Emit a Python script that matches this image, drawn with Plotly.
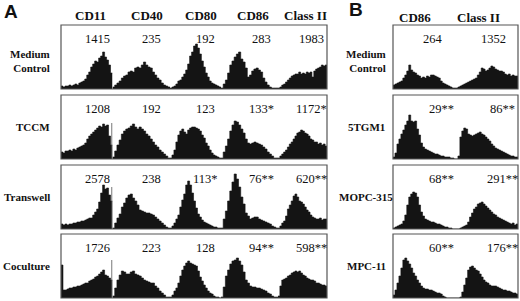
import plotly.graph_objects as go

# ---------------- data ----------------
markers_A = ["CD11", "CD40", "CD80", "CD86", "Class II"]
markers_B = ["CD86", "Class II"]
conditions_A = ["Medium<br>Control", "TCCM", "Transwell", "Coculture"]
conditions_B = ["Medium<br>Control", "5TGM1", "MOPC-315", "MPC-11"]

mfi_A = [["1415", "235", "192", "283", "1983"],
         ["1208", "192", "123", "133*", "1172*"],
         ["2578", "238", "113*", "76**", "620**"],
         ["1726", "223", "128", "94**", "598**"]]
mfi_B = [["264", "1352"],
         ["29**", "86**"],
         ["68**", "291**"],
         ["60**", "176**"]]

# relative cell counts per channel bin (0-64 scale)
medium_A = [
    [3, 2, 3, 3, 4, 3, 4, 5, 4, 6, 7, 8, 10, 14, 17, 22, 25, 28, 27, 31, 33, 37, 32, 29, 24, 16],
    [2, 4, 6, 8, 11, 13, 14, 17, 18, 17, 21, 22, 21, 24, 27, 24, 22, 21, 17, 14, 11, 9, 6, 4, 3, 2],
    [1, 2, 3, 5, 8, 9, 12, 15, 19, 25, 33, 37, 43, 45, 41, 35, 28, 22, 16, 12, 8, 6, 5, 4, 3, 2],
    [1, 5, 9, 16, 24, 28, 32, 35, 37, 30, 27, 21, 12, 14, 18, 20, 21, 19, 17, 11, 7, 4, 2, 1, 1, 1],
    [1, 2, 4, 5, 7, 9, 11, 13, 14, 15, 15, 17, 15, 16, 15, 17, 16, 17, 12, 18, 20, 21, 22, 24, 23, 24],
]
tccm_A = [
    [7, 6, 8, 8, 9, 8, 10, 9, 11, 12, 13, 14, 16, 20, 23, 25, 27, 29, 31, 33, 32, 35, 33, 34, 23, 14],
    [2, 8, 14, 19, 25, 28, 30, 31, 33, 35, 32, 30, 32, 30, 28, 25, 23, 20, 17, 14, 12, 9, 7, 5, 3, 1],
    [1, 4, 9, 17, 24, 28, 30, 27, 25, 29, 31, 32, 32, 31, 30, 28, 24, 21, 16, 13, 9, 6, 4, 3, 2, 1],
    [1, 7, 13, 20, 28, 34, 38, 37, 34, 30, 26, 20, 16, 15, 16, 17, 16, 15, 14, 12, 10, 7, 5, 3, 1, 1],
    [1, 3, 5, 7, 9, 12, 15, 17, 20, 23, 26, 27, 29, 28, 26, 25, 23, 20, 19, 17, 17, 15, 16, 14, 15, 13],
]
transwell_A = [
    [5, 4, 5, 4, 5, 5, 6, 6, 7, 7, 8, 8, 9, 10, 11, 11, 14, 17, 20, 27, 36, 44, 40, 41, 34, 28],
    [1, 6, 11, 15, 22, 26, 31, 34, 35, 31, 28, 24, 19, 18, 17, 16, 16, 15, 14, 12, 10, 8, 6, 4, 2, 1],
    [1, 3, 6, 10, 14, 22, 29, 35, 44, 48, 44, 36, 28, 21, 15, 12, 9, 7, 6, 5, 4, 3, 2, 2, 1, 1],
    [1, 10, 18, 28, 38, 47, 55, 50, 42, 32, 25, 16, 13, 10, 11, 12, 12, 10, 9, 8, 7, 6, 5, 3, 2, 1],
    [1, 3, 6, 8, 13, 20, 24, 28, 33, 35, 32, 28, 27, 25, 22, 19, 17, 14, 12, 11, 10, 10, 11, 9, 10, 10],
]
coculture_A = [
    [33, 8, 8, 9, 10, 10, 11, 11, 12, 12, 13, 14, 15, 15, 17, 18, 19, 21, 22, 24, 26, 28, 23, 22, 20, 18],
    [2, 10, 18, 23, 27, 26, 24, 24, 26, 27, 24, 23, 22, 20, 18, 17, 16, 15, 15, 12, 10, 7, 5, 3, 1, 1],
    [1, 3, 7, 10, 15, 22, 28, 32, 35, 37, 35, 34, 33, 32, 27, 21, 17, 13, 10, 7, 5, 4, 2, 1, 1, 0],
    [1, 11, 22, 28, 34, 37, 38, 40, 37, 33, 26, 18, 15, 12, 11, 11, 10, 10, 9, 8, 7, 5, 4, 2, 1, 1],
    [2, 12, 18, 19, 20, 22, 23, 25, 26, 27, 26, 27, 25, 23, 22, 20, 19, 18, 18, 17, 15, 15, 14, 13, 13, 12],
]
hist_A = [medium_A, tccm_A, transwell_A, coculture_A]
gate_A = [None, 36, 42, 38]   # CD11 gate marker height per row

medium_B = [
    [4, 5, 6, 7, 8, 11, 14, 18, 24, 19, 17, 16, 14, 13, 11, 12, 11, 13, 12, 14, 14, 13, 12, 11, 8, 6, 5, 4, 3, 2, 1, 1],
    [1, 2, 3, 4, 5, 6, 7, 8, 9, 10, 11, 14, 17, 21, 20, 18, 19, 21, 23, 22, 20, 19, 18, 18, 17, 15, 14, 15, 13, 14, 13, 13],
]
tgm1_B = [
    [2, 6, 15, 20, 25, 29, 34, 38, 44, 38, 37, 38, 30, 24, 16, 12, 10, 9, 8, 7, 6, 5, 5, 4, 3, 3, 2, 2, 2, 1, 1, 0],
    [0, 3, 22, 28, 31, 30, 25, 24, 23, 24, 25, 26, 27, 25, 24, 22, 20, 18, 15, 13, 11, 10, 9, 8, 7, 6, 5, 4, 3, 3, 2, 2],
]
mopc_B = [
    [1, 2, 3, 4, 5, 8, 14, 24, 32, 35, 37, 36, 32, 24, 17, 13, 10, 9, 8, 7, 7, 6, 5, 5, 4, 3, 2, 2, 1, 1, 0, 0],
    [0, 0, 1, 2, 3, 4, 7, 12, 16, 20, 22, 25, 26, 27, 25, 23, 21, 19, 17, 15, 14, 12, 11, 10, 9, 8, 7, 6, 5, 6, 4, 5],
]
mpc_B = [
    [3, 8, 15, 22, 30, 38, 40, 37, 34, 30, 25, 22, 18, 15, 12, 10, 9, 9, 8, 8, 7, 6, 5, 5, 4, 2, 1, 0, 0, 0, 0, 0],
    [0, 0, 1, 6, 13, 20, 28, 31, 32, 30, 28, 27, 24, 21, 18, 16, 15, 13, 12, 12, 12, 11, 10, 9, 8, 8, 7, 7, 6, 5, 5, 4],
]
hist_B = [medium_B, tgm1_B, mopc_B, mpc_B]

# ---------------- layout geometry (pixels) ----------------
W, H = 520, 301
seg_A = [61, 112.5, 170, 221, 278, 327]
seg_B = [393, 456, 518]
rows = [(25, 89), (95, 159), (165, 229), (234, 298)]
hdr_A_x = [90, 147, 201, 253, 305]
hdr_B_x = [415, 478]
num_A_x = [97, 151, 205, 261, 311]
num_B_x = [[433, 493], [441, 502], [441, 502], [441, 502]]

SERIF = "Liberation Serif, Times New Roman, serif"
SANS = "Liberation Sans, Arial, sans-serif"
FILL = "#141414"

fig = go.Figure()
axn = [0]


def px(x):
    return x / W


def py(y):
    return 1 - y / H


def add_hist(vals, x0, x1, top, bot, gate=None):
    axn[0] += 1
    k = axn[0]
    sfx = "" if k == 1 else str(k)
    n = len(vals)
    xs = list(range(n + 1))
    ys = list(vals) + [vals[-1]]
    fig.add_trace(go.Scatter(x=xs, y=ys, mode="lines", line=dict(shape="hv", width=0.6, color=FILL),
                             fill="tozeroy", fillcolor=FILL, xaxis="x" + sfx, yaxis="y" + sfx,
                             hoverinfo="skip", showlegend=False))
    if gate is not None:
        fig.add_trace(go.Scatter(x=[n - 0.3, n - 0.3], y=[0, gate], mode="lines",
                                 line=dict(width=1, color="#555"), xaxis="x" + sfx, yaxis="y" + sfx,
                                 hoverinfo="skip", showlegend=False))
    fig.layout["xaxis" + sfx] = dict(domain=[px(x0), px(x1)], range=[0, n], visible=False,
                                     fixedrange=True, anchor="y" + sfx)
    fig.layout["yaxis" + sfx] = dict(domain=[py(bot), py(top)], range=[0, 64], visible=False,
                                     fixedrange=True, anchor="x" + sfx)


shapes = []
ann = []
for r, (top, bot) in enumerate(rows):
    for c in range(len(markers_A)):
        add_hist(hist_A[r][c], seg_A[c], seg_A[c + 1], top, bot, gate_A[r] if c == 0 else None)
        ann.append(dict(x=px(num_A_x[c]), y=py(top + 14), text=mfi_A[r][c],
                        font=dict(family=SERIF, size=12.5, color="#111")))
    for c in range(len(markers_B)):
        add_hist(hist_B[r][c], seg_B[c], seg_B[c + 1], top, bot)
        ann.append(dict(x=px(num_B_x[r][c]), y=py(top + 14), text=mfi_B[r][c],
                        font=dict(family=SERIF, size=12.5, color="#111")))
    for (x0, x1) in [(seg_A[0], seg_A[-1]), (seg_B[0], seg_B[-1])]:
        shapes.append(dict(type="rect", xref="paper", yref="paper", x0=px(x0), x1=px(x1),
                           y0=py(bot), y1=py(top), line=dict(color="#555", width=1.2)))
    yc = (top + bot) / 2 + (4 if r == 0 else 0)
    ann.append(dict(x=px(52), y=py(yc), text="<b>" + conditions_A[r] + "</b>", xanchor="right",
                    align="right", font=dict(family=SERIF, size=11, color="#111")))
    ann.append(dict(x=px(366), y=py(yc), text="<b>" + conditions_B[r] + "</b>", xanchor="center",
                    align="right", font=dict(family=SERIF, size=11, color="#111")))

for c, m in enumerate(markers_A):
    ann.append(dict(x=px(hdr_A_x[c]), y=py(15.5), text="<b>" + m + "</b>",
                    font=dict(family=SERIF, size=13, color="#111")))
for c, m in enumerate(markers_B):
    ann.append(dict(x=px(hdr_B_x[c]), y=py(17), text="<b>" + m + "</b>",
                    font=dict(family=SERIF, size=13, color="#111")))
ann.append(dict(x=px(2), y=py(11), text="<b>A</b>", xanchor="left",
                font=dict(family=SANS, size=19, color="#111")))
ann.append(dict(x=px(347), y=py(10), text="<b>B</b>", xanchor="left",
                font=dict(family=SANS, size=19, color="#111")))

for a in ann:
    a.setdefault("xanchor", "center")
    a.update(xref="paper", yref="paper", yanchor="middle", showarrow=False)

fig.update_layout(width=W, height=H, margin=dict(l=0, r=0, t=0, b=0),
                  paper_bgcolor="white", plot_bgcolor="white",
                  shapes=shapes, annotations=ann, showlegend=False)

fig.write_html("out.html", config={"displayModeBar": False},
               post_script="document.body.style.margin='0';document.body.style.overflow='hidden';")
